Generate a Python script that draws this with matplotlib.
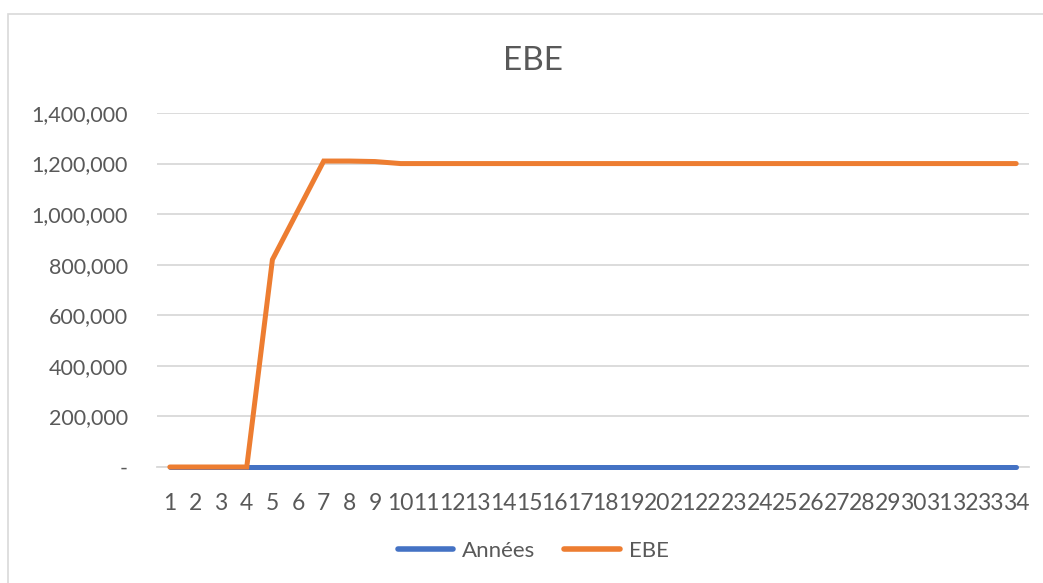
import matplotlib
matplotlib.use("Agg")
import matplotlib.pyplot as plt
from matplotlib.ticker import FuncFormatter
from matplotlib.patches import Rectangle

plt.rcParams['font.family'] = ['Lato', 'DejaVu Sans']

# Data
years_idx = list(range(1, 35))
annees = [0] * 34
ebe = [0, 0, 0, 0, 820000, 1015000, 1210000, 1210000, 1208000, 1200000] + [1200000] * 24
y_ticks = [0, 200000, 400000, 600000, 800000, 1000000, 1200000, 1400000]

TEXT = '#595959'
BLUE = '#4472C4'
ORANGE = '#ED7D31'
GRID = '#D9D9D9'

W, H = 1043, 583
fig = plt.figure(figsize=(W / 100, H / 100), dpi=100)
fig.patch.set_facecolor('white')

# outer chart border
fig.add_artist(Rectangle((8 / W, -0.01), 1.2, (583 - 14) / H + 0.01, transform=fig.transFigure,
                         fill=False, edgecolor='#D9D9D9', linewidth=1.2))

ax = fig.add_axes([157 / W, (H - 467) / H, (1029 - 157) / W, (467 - 113) / H])
ax.set_facecolor('white')

ax.plot(years_idx, annees, color=BLUE, lw=3.6, solid_capstyle='round', label='Années',
        zorder=3, clip_on=False)
ax.plot(years_idx, ebe, color=ORANGE, lw=3.6, solid_capstyle='round', solid_joinstyle='miter',
        label='EBE', zorder=4, clip_on=False)

ax.set_xlim(0.5, 34.5)
ax.set_ylim(0, 1400000)
ax.set_yticks(y_ticks)
ax.yaxis.set_major_formatter(FuncFormatter(lambda v, p: '-' if v == 0 else f'{int(v):,}'))
ax.set_xticks(years_idx)
ax.set_xticklabels([str(i) for i in years_idx])

ax.grid(axis='y', color=GRID, lw=1.3)
ax.set_axisbelow(True)
for s in ['top', 'right', 'left']:
    ax.spines[s].set_visible(False)
ax.spines['bottom'].set_color(GRID)
ax.spines['bottom'].set_linewidth(1.3)
ax.spines['bottom'].set_zorder(1)
ax.tick_params(axis='both', length=0, colors=TEXT)
ax.tick_params(axis='y', pad=21, labelsize=15.5)
ax.tick_params(axis='x', pad=19, labelsize=16.5)

fig.text(533 / W, 1 - 61 / H, 'EBE', ha='center', va='center', fontsize=24, color=TEXT)

leg = fig.legend(loc='center', bbox_to_anchor=(533 / W, 1 - 551 / H), ncol=2, frameon=False,
                 fontsize=16, handlelength=2.5, columnspacing=1.3, handletextpad=0.4)
for t in leg.get_texts():
    t.set_color(TEXT)
for h in leg.legend_handles:
    h.set_linewidth(4)

fig.savefig('out.png', dpi=100, facecolor='white')
